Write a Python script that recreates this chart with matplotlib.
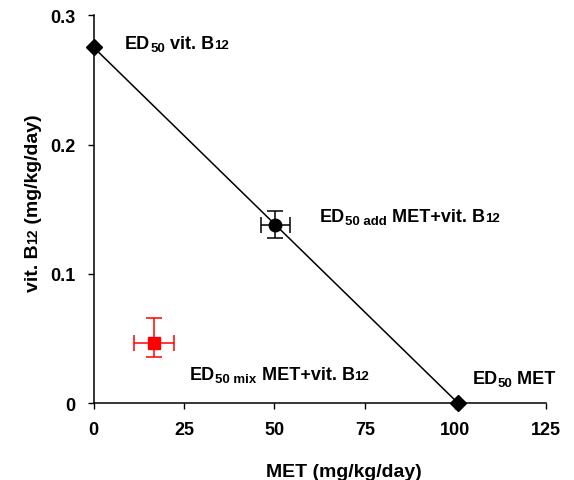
import matplotlib
matplotlib.use('Agg')
import matplotlib.pyplot as plt
from matplotlib.transforms import offset_copy

plt.rcParams['font.family'] = ['Liberation Sans', 'DejaVu Sans']
plt.rcParams['font.weight'] = 'bold'

# isobologram data
iso_x = [0, 100.7]          # MET
iso_y = [0.2753, 0]         # vit. B12
add_x, add_y = 50.2, 0.138
add_xerr, add_yerr = 4.0, 0.0106
mix_x, mix_y = 16.7, 0.0465
mix_xerr = 5.6
mix_yerr_lo, mix_yerr_hi = 0.0106, 0.0196
xticks = [0, 25, 50, 75, 100, 125]
yticks = [0, 0.1, 0.2, 0.3]
yticklabels = ['0', '0.1', '0.2', '0.3']

fig = plt.figure(figsize=(5.74, 4.81), dpi=100)
ax = fig.add_axes([0.163, 0.16, 0.788, 0.806])

ax.plot(iso_x, iso_y, color='black', lw=1.1, marker='D', ms=8.5, zorder=3, clip_on=False)
ax.errorbar(add_x, add_y, xerr=add_xerr, yerr=add_yerr, fmt='o', color='black',
            ms=9, capsize=6, elinewidth=1.1, capthick=1.1, zorder=4)
ax.errorbar(mix_x, mix_y, xerr=mix_xerr, yerr=[[mix_yerr_lo], [mix_yerr_hi]], fmt='s',
            color='#ff0000', ms=9, capsize=6, elinewidth=1.1, capthick=1.1, zorder=4)

fs = 13
small = 9.5
renderer = fig.canvas.get_renderer()


def note(x, y, pieces):
    # pieces: (text, size, shift in px); written one after another on one baseline
    dx = 0
    for s, size, dy in pieces:
        tr = offset_copy(ax.transData, fig=fig, x=dx, y=dy, units='dots')
        t = ax.text(x, y, s, fontsize=size, fontweight='bold', va='baseline',
                    ha='left', transform=tr)
        dx += t.get_window_extent(renderer).width


def vlabel(px, py, pieces):
    # rotated title, pieces stacked upward from pixel (px, py) on one baseline
    dy = 0
    for s, size in pieces:
        tr = offset_copy(fig.transFigure, fig=fig, x=0, y=dy, units='dots')
        t = fig.text(px / 574, 1 - py / 481, s, fontsize=size, fontweight='bold',
                     rotation=90, rotation_mode='anchor', ha='left', va='baseline',
                     transform=tr)
        dy += t.get_window_extent(renderer).height


note(8.7, 0.275, [('ED', fs, 0), ('50', small, -3), (' vit. B', fs, 0), ('12', small, 0)])
note(62.6, 0.1412, [('ED', fs, 0), ('50 add', small, -3), (' MET+vit. B', fs, 0),
                    ('12', small, 0)])
note(26.7, 0.0186, [('ED', fs, 0), ('50 mix', small, -3), (' MET+vit. B', fs, 0),
                    ('12', small, 0)])
note(104.7, 0.0155, [('ED', fs, 0), ('50', small, -3), (' MET', fs, 0)])

ax.set_xlim(0, 125)
ax.set_ylim(0, 0.3)
ax.set_xticks(xticks)
ax.set_yticks(yticks)
ax.set_yticklabels(yticklabels)
ax.tick_params(labelsize=13, length=4, width=1, direction='out', pad=9)
for lab in ax.get_xticklabels() + ax.get_yticklabels():
    lab.set_fontweight('bold')

ax.spines['top'].set_visible(False)
ax.spines['right'].set_visible(False)
ax.spines['left'].set_linewidth(1.1)
ax.spines['bottom'].set_linewidth(1.1)
ax.patch.set_visible(False)

# axis titles placed like the original
fig.text(344 / 574, 1 - 477 / 481, 'MET (mg/kg/day)', fontsize=14, fontweight='bold',
         ha='center', va='baseline')
vlabel(37.5, 292, [('vit. B', 14), ('12', 10), (' (mg/kg/day)', 14)])

fig.savefig('out.png', dpi=100)
